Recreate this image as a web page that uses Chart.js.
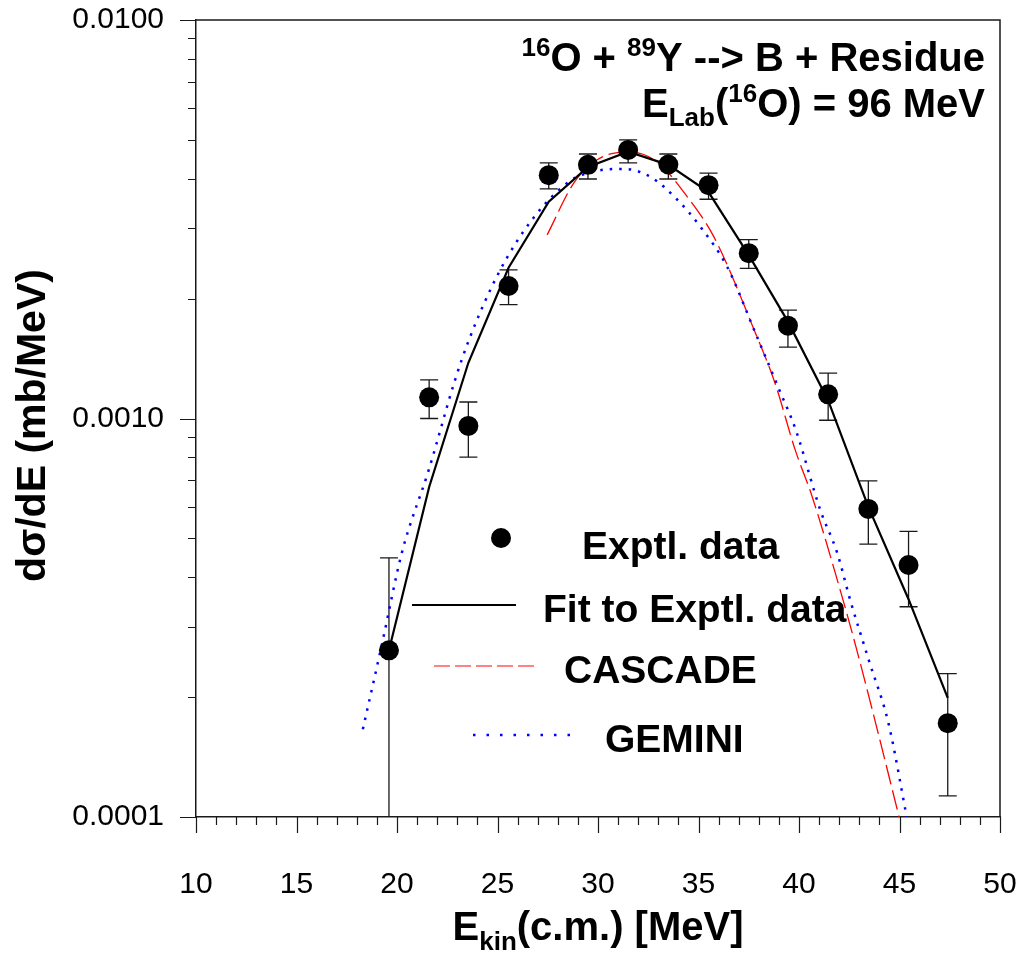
<!DOCTYPE html>
<html>
<head>
<meta charset="utf-8">
<script src="https://cdn.jsdelivr.net/npm/chart.js@4.4.0/dist/chart.umd.min.js"></script>
<style>
  html, body { margin: 0; padding: 0; background: #fff; }
  #wrap { width: 1018px; height: 956px; }
</style>
</head>
<body>
<div id="wrap"><canvas id="chartSpectrum" width="1018" height="956"></canvas></div>
<script>
const fontFamily = '"Liberation Sans", Arial, Helvetica, sans-serif';

// experimental points (E c.m. in MeV, dsigma/dE in mb/MeV)
const expEnergy = [19.6, 21.6, 23.55, 25.55, 27.55, 29.5, 31.5, 33.5, 35.5, 37.5, 39.45, 41.45, 43.45, 45.45, 47.4];
const expValue = [0.000262, 0.00113, 0.000958, 0.00215, 0.00408, 0.00433, 0.00472, 0.00434, 0.00385, 0.0026, 0.00171, 0.00115, 0.000593, 0.000429, 0.000172];
const expHigh = [0.000447, 0.00125, 0.0011, 0.00236, 0.00438, 0.00461, 0.005, 0.00461, 0.00413, 0.00281, 0.00187, 0.0013, 0.000697, 0.000521, 0.000229];
const expLow = [0.00008, 0.001, 0.0008, 0.00193, 0.00377, 0.00399, 0.00438, 0.00399, 0.00355, 0.00238, 0.00151, 0.00099, 0.000484, 0.000337, 0.000113];

// fit to the data
const fitValue = [0.000262, 0.000673, 0.00138, 0.00239, 0.0035, 0.00428, 0.00467, 0.00433, 0.0037, 0.00257, 0.00175, 0.00111, 0.0006, 0.000352, 0.000199];

// CASCADE calculation
const cascadeEnergy = [27.47, 28.8, 29.96, 31.53, 32.94, 34.5, 35.76, 37.83, 38.8, 39.81, 40.64, 42.05, 42.88, 43.69, 44.98];
const cascadeValue = [0.00289, 0.0039, 0.00446, 0.00467, 0.0044, 0.00357, 0.00286, 0.00164, 0.00123, 0.000834, 0.00064, 0.000371, 0.000262, 0.000182, 0.0001];

// GEMINI calculation
const geminiEnergy = [18.3, 19.22, 20.24, 21.58, 22.89, 23.57, 25.06, 26.75, 28.63, 29.93, 31.27, 32.61, 33.9, 35.09, 36.43, 37.83, 39.02, 39.84, 41.06, 41.9, 42.55, 43.5, 44.45, 45.36];
const geminiValue = [0.000166, 0.000267, 0.00046, 0.000743, 0.00125, 0.00157, 0.00232, 0.00317, 0.00395, 0.00418, 0.00423, 0.00404, 0.00356, 0.00303, 0.0024, 0.00164, 0.00118, 0.000936, 0.000589, 0.00046, 0.00035, 0.000245, 0.000172, 0.0001];

const xTickValues = [10, 15, 20, 25, 30, 35, 40, 45, 50];
const yTickValues = [0.0001, 0.001, 0.01];
const yTickLabels = ['0.0001', '0.0010', '0.0100'];

const pairs = (xs, ys) => xs.map((v, i) => ({ x: v, y: ys[i] }));

function richText(ctx, parts, x, y, align) {
  let w = 0;
  parts.forEach((p) => {
    ctx.font = `bold ${p[1]}px ${fontFamily}`;
    w += ctx.measureText(p[0]).width;
  });
  let cx = align === 'right' ? x - w : align === 'center' ? x - w / 2 : x;
  parts.forEach((p) => {
    ctx.font = `bold ${p[1]}px ${fontFamily}`;
    ctx.fillText(p[0], cx, y + p[2]);
    cx += ctx.measureText(p[0]).width;
  });
}

// error bars under the markers
const errorBars = {
  id: 'errorBars',
  beforeDatasetsDraw(chart) {
    const { ctx, chartArea: a, scales: { x, y } } = chart;
    ctx.save();
    ctx.beginPath();
    ctx.rect(a.left, a.top, a.right - a.left, a.bottom - a.top);
    ctx.clip();
    ctx.strokeStyle = '#1a1a1a';
    ctx.lineWidth = 1.3;
    expEnergy.forEach((e, i) => {
      const px = x.getPixelForValue(e);
      const top = y.getPixelForValue(expHigh[i]);
      const bot = y.getPixelForValue(expLow[i]);
      ctx.beginPath();
      ctx.moveTo(px, top);
      ctx.lineTo(px, bot);
      ctx.moveTo(px - 9, top);
      ctx.lineTo(px + 9, top);
      ctx.moveTo(px - 9, bot);
      ctx.lineTo(px + 9, bot);
      ctx.stroke();
    });
    ctx.restore();
  },
};

// frame, tick marks, titles and legend
const decorations = {
  id: 'decorations',
  afterDraw(chart) {
    const { ctx, chartArea: a, scales: { x, y } } = chart;
    ctx.save();
    ctx.strokeStyle = '#1a1a1a';
    ctx.lineWidth = 1.5;
    ctx.beginPath();
    ctx.moveTo(a.left, a.top);
    ctx.lineTo(a.right, a.top);
    ctx.lineTo(a.right, a.bottom);
    ctx.stroke();

    ctx.lineWidth = 1.2;
    ctx.beginPath();
    for (let v = 10; v <= 50; v++) {
      const px = Math.round(x.getPixelForValue(v)) + 0.5;
      const len = v % 5 === 0 ? 16 : 8;
      ctx.moveTo(px, a.bottom);
      ctx.lineTo(px, a.bottom + len);
    }
    for (let d = 0.0001; d < 0.011; d *= 10) {
      for (let m = 1; m <= 9; m++) {
        const v = d * m;
        if (v > 0.0101) break;
        const py = Math.round(y.getPixelForValue(v)) + 0.5;
        const len = m === 1 ? 16 : 8;
        ctx.moveTo(a.left, py);
        ctx.lineTo(a.left - len, py);
      }
    }
    ctx.stroke();

    ctx.fillStyle = '#000';
    ctx.textBaseline = 'alphabetic';
    // title lines
    const tx = a.right - 15;
    richText(ctx, [['16', 26, -15], ['O + ', 40, 0], ['89', 26, -15], ['Y --> B + Residue', 40, 0]], tx, a.top + 51, 'right');
    richText(ctx, [['E', 40, 0], ['Lab', 26, 9], ['(', 40, 0], ['16', 26, -15], ['O) = 96 MeV', 40, 0]], tx, a.top + 97, 'right');

    // axis titles
    richText(ctx, [['E', 40, 0], ['kin', 26, 10], ['(c.m.) [MeV]', 40, 0]], (a.left + a.right) / 2, 940, 'center');
    ctx.save();
    ctx.translate(45, (a.top + a.bottom) / 2 + 7);
    ctx.rotate(-Math.PI / 2);
    richText(ctx, [['d\u03c3/dE (mb/MeV)', 41, 0]], 0, 0, 'center');
    ctx.restore();

    // legend
    const lx = a.left, ly = a.top;
    ctx.beginPath();
    ctx.arc(lx + 305, ly + 518, 10, 0, Math.PI * 2);
    ctx.fill();
    richText(ctx, [['Exptl. data', 39, 0]], lx + 386, ly + 539, 'left');

    ctx.lineWidth = 2.2;
    ctx.strokeStyle = '#000';
    ctx.beginPath();
    ctx.moveTo(lx + 216, ly + 585);
    ctx.lineTo(lx + 320, ly + 585);
    ctx.stroke();
    richText(ctx, [['Fit to Exptl. data', 39, 0]], lx + 347, ly + 602, 'left');

    ctx.lineWidth = 1.5;
    ctx.strokeStyle = '#ff5a5a';
    ctx.setLineDash([16, 5]);
    ctx.beginPath();
    ctx.moveTo(lx + 238, ly + 646);
    ctx.lineTo(lx + 340, ly + 646);
    ctx.stroke();
    richText(ctx, [['CASCADE', 39, 0]], lx + 368, ly + 663, 'left');

    ctx.lineWidth = 2.5;
    ctx.strokeStyle = '#0000ff';
    ctx.setLineDash([2.5, 11]);
    ctx.beginPath();
    ctx.moveTo(lx + 277, ly + 715);
    ctx.lineTo(lx + 377, ly + 715);
    ctx.stroke();
    ctx.setLineDash([]);
    richText(ctx, [['GEMINI', 39, 0]], lx + 409, ly + 732, 'left');
    ctx.restore();
  },
};

const chartSpectrumData = {
  datasets: [
    {
      label: 'Exptl. data',
      data: pairs(expEnergy, expValue),
      showLine: false,
      pointRadius: 10,
      pointBackgroundColor: '#000',
      pointBorderWidth: 0,
      order: 0,
    },
    {
      label: 'Fit to Exptl. data',
      data: pairs(expEnergy, fitValue),
      showLine: true,
      borderColor: '#000',
      borderWidth: 2.2,
      pointRadius: 0,
      order: 1,
    },
    {
      label: 'CASCADE',
      data: pairs(cascadeEnergy, cascadeValue),
      showLine: true,
      borderColor: '#ff0000',
      borderWidth: 1.3,
      borderDash: [20, 6],
      cubicInterpolationMode: 'monotone',
      pointRadius: 0,
      order: 3,
    },
    {
      label: 'GEMINI',
      data: pairs(geminiEnergy, geminiValue),
      showLine: true,
      borderColor: '#0000ff',
      borderWidth: 2.5,
      borderDash: [2.5, 7],
      cubicInterpolationMode: 'monotone',
      pointRadius: 0,
      order: 2,
    },
  ],
};

const chartSpectrumConfig = {
  type: 'scatter',
  data: chartSpectrumData,
  plugins: [errorBars, decorations],
  options: {
    responsive: false,
    animation: false,
    events: [],
    layout: {
      padding: { top: 20, right: 18, left: 0, bottom: 0 },
      autoPadding: false,
    },
    plugins: {
      legend: { display: false },
      tooltip: { enabled: false },
    },
    scales: {
      x: {
        type: 'linear',
        min: 10,
        max: 50,
        afterFit: (scale) => {
          scale.height = 139;
          scale.paddingLeft = 0;
          scale.paddingRight = 0;
        },
        afterBuildTicks: (scale) => { scale.ticks = xTickValues.map((v) => ({ value: v })); },
        grid: { display: false, drawTicks: false },
        border: { display: true, color: '#1a1a1a', width: 1.5 },
        ticks: {
          color: '#000',
          font: { size: 30, family: fontFamily },
          padding: 50,
          maxRotation: 0,
          autoSkip: false,
        },
      },
      y: {
        type: 'logarithmic',
        min: 0.0001,
        max: 0.01,
        afterFit: (scale) => {
          scale.width = 196;
          scale.paddingTop = 0;
          scale.paddingBottom = 0;
        },
        afterBuildTicks: (scale) => { scale.ticks = yTickValues.map((v) => ({ value: v })); },
        grid: { display: false, drawTicks: false },
        border: { display: true, color: '#1a1a1a', width: 1.5 },
        ticks: {
          color: '#000',
          font: { size: 30, family: fontFamily },
          padding: 32,
          autoSkip: false,
          callback: (v) => {
            const i = yTickValues.findIndex((t) => Math.abs(Math.log10(t) - Math.log10(v)) < 1e-6);
            return i >= 0 ? yTickLabels[i] : '';
          },
        },
      },
    },
  },
};

const chartSpectrum = new Chart(
  document.getElementById('chartSpectrum'),
  chartSpectrumConfig
);
</script>
</body>
</html>
